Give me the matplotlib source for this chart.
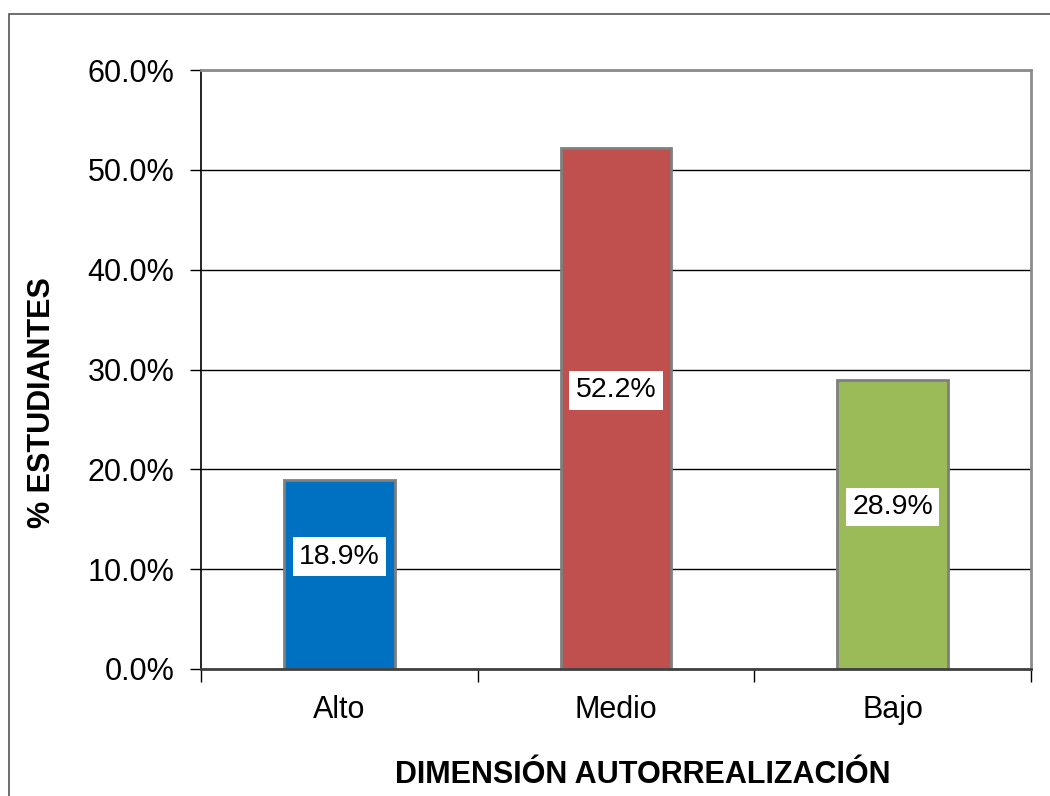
import matplotlib
matplotlib.use("Agg")
import matplotlib.pyplot as plt
from matplotlib.patches import Rectangle
from matplotlib.ticker import FuncFormatter, MultipleLocator

categories = ["Alto", "Medio", "Bajo"]
values = [18.9, 52.2, 28.9]
bar_colors = ["#0070C0", "#C0504D", "#9BBB59"]
x_title = "DIMENSIÓN AUTORREALIZACIÓN"
y_title = "% ESTUDIANTES"

plt.rcParams["font.family"] = ["Liberation Sans", "DejaVu Sans"]

fig = plt.figure(figsize=(10.5, 7.96), dpi=100)
W, H = 1050, 796
ax = fig.add_axes([201 / W, 1 - 669 / H, (1031 - 201) / W, (669 - 70) / H])

# outer chart border
fig.patches.append(Rectangle((9 / W, -0.05), 1.1, 1 - 14 / H + 0.05,
                             transform=fig.transFigure, fill=False,
                             edgecolor="#555555", linewidth=1.2, zorder=0))

x = list(range(len(categories)))
ax.bar(x, values, width=0.4, color=bar_colors, edgecolor="#7F7F7F",
       linewidth=2, zorder=3)

for xi, v in zip(x, values):
    ax.text(xi, v / 2 + 1.8, f"{v:.1f}%", ha="center", va="center",
            fontsize=20.5, zorder=4,
            bbox=dict(boxstyle="square,pad=0.22", facecolor="white",
                      edgecolor="none"))

ax.set_xlim(-0.5, len(categories) - 0.5)
ax.set_ylim(0, 60)
ax.yaxis.set_major_locator(MultipleLocator(10))
ax.yaxis.set_major_formatter(FuncFormatter(lambda v, p: f"{v:.1f}%"))
ax.grid(axis="y", color="black", linewidth=1, zorder=1)
ax.set_axisbelow(True)

ax.set_xticks(x)
ax.set_xticklabels(categories, fontsize=22)
ax.set_xticks([i - 0.5 for i in range(len(categories) + 1)], minor=True)
ax.tick_params(axis="x", which="major", length=0, pad=19)
ax.tick_params(axis="x", which="minor", length=9, width=1, direction="out")
ax.tick_params(axis="y", labelsize=22, length=8, width=1, direction="out", pad=11)

for s in ["top", "right"]:
    ax.spines[s].set_color("#8C8C8C")
    ax.spines[s].set_linewidth(2)
ax.spines["left"].set_color("black")
ax.spines["left"].set_linewidth(1.2)
ax.spines["bottom"].set_color("#404040")
ax.spines["bottom"].set_linewidth(2)
ax.spines["bottom"].set_zorder(5)

ax.set_xlabel(x_title, fontsize=22, fontweight="bold", va="center")
ax.xaxis.set_label_coords((643 - 201) / 830, (669 - 775) / 599)
ax.set_ylabel(y_title, fontsize=22, fontweight="bold", va="center")
ax.yaxis.set_label_coords((42 - 201) / 830, (669 - 403) / 599)

fig.savefig("out.png", dpi=100)
